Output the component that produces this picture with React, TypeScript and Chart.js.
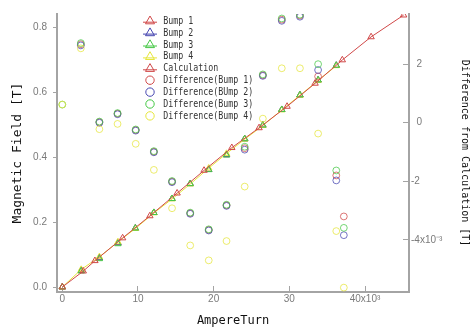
import { useEffect, useRef } from 'react';
import { Chart, registerables } from 'chart.js';

Chart.register(...registerables);

// ---- data ----
const seriesNames = [
  'Bump 1',
  'Bump 2',
  'Bump 3',
  'Bump 4',
  'Calculation',
  'Difference(Bump 1)',
  'Difference(BUmp 2)',
  'Difference(Bump 3)',
  'Difference(Bump 4)',
];

// AmpereTurn of the bump measurements
const bumpX = [0, 2500, 4900, 7350, 9650, 12100, 14500, 16900, 19350, 21700, 24100, 26500, 29000, 31400, 33800, 36200];
// Magnetic field [T]
const bump1 = [0, 0.051, 0.090, 0.136, 0.181, 0.229, 0.272, 0.318, 0.362, 0.407, 0.456, 0.498, 0.546, 0.591, 0.637, 0.682];
const bump2 = [0, 0.051, 0.090, 0.136, 0.181, 0.229, 0.272, 0.318, 0.362, 0.407, 0.456, 0.498, 0.546, 0.591, 0.637, 0.682];
const bump3 = [0, 0.049, 0.087, 0.133, 0.181, 0.229, 0.272, 0.318, 0.361, 0.406, 0.456, 0.498, 0.546, 0.591, 0.637, 0.682];
const bump4 = [0, 0.054, 0.093, 0.139, 0.180, 0.228, 0.271, 0.317, 0.366, 0.411, 0.455, 0.497, 0.545, 0.590, 0.636, 0.681];

// Calculation
const calcX = [0, 2770, 4310, 7970, 11570, 15170, 18730, 22400, 26000, 29700, 33400, 37000, 40800, 45100];
const calcY = [0, 0.049, 0.081, 0.151, 0.219, 0.289, 0.359, 0.429, 0.490, 0.556, 0.627, 0.699, 0.770, 0.837];

// Difference from calculation, in units of 10^-3 T
const diffX = [0, 2450, 4900, 7300, 9700, 12100, 14500, 16900, 19350, 21700, 24100, 26500, 29000, 31400, 33800, 36200, 37200];
const diffBump1 = [null, 2.68, 0.02, 0.31, -0.25, -0.99, -2.01, -3.09, -3.66, -2.82, -0.87, 1.62, 3.52, 3.66, 1.58, -1.80, -3.20];
const diffBump2 = [null, 2.64, 0.0, 0.29, -0.27, -1.01, -2.03, -3.11, -3.68, -2.84, -0.92, 1.60, 3.48, 3.62, 1.80, -1.97, -3.84];
const diffBump3 = [0.62, 2.72, 0.04, 0.33, -0.23, -0.97, -1.99, -3.07, -3.64, -2.80, -0.82, 1.65, 3.56, 3.69, 2.00, -1.63, -3.59];
const diffBump4 = [0.62, 2.54, -0.22, -0.04, -0.72, -1.61, -2.92, -4.19, -4.70, -4.04, -2.18, 0.14, 1.86, 1.86, -0.37, -3.70, -5.63];

// ticks
const xTickValues = [0, 10000, 20000, 30000, 40000];
const xTickLabels = ['0', '10', '20', '30', '40x10\u00B3'];
const yTickValues = [0, 0.2, 0.4, 0.6, 0.8];
const yTickLabels = ['0.0', '0.2', '0.4', '0.6', '0.8'];
const y2TickValues = [2, 0, -2, -4];
const y2TickLabels = ['\u20072', '\u20070', '-2', '-4x10\u207B\u00B3'];

// ---- styles ----
const RED = '#d04848';
const BLUE = '#4646b0';
const GREEN = '#46c846';
const YELLOW = '#e6e63c';
const seriesColors = [RED, BLUE, GREEN, YELLOW, RED, RED, BLUE, GREEN, YELLOW];
const AXIS = '#a4a4a4';
const TICKTXT = '#7a7a7a';
const TICKFONT = "'Liberation Sans Narrow', 'Liberation Sans', sans-serif";
const MONO = "'DejaVu Sans Mono', 'Liberation Mono', monospace";

const pts = (xs: number[], ys: (number | null)[]) => xs.map((x, i) => ({ x, y: ys[i] }));

const alpha = (hex: string, a: number) => {
  const n = parseInt(hex.slice(1), 16);
  return `rgba(${(n >> 16) & 255},${(n >> 8) & 255},${n & 255},${a})`;
};

const insideLegend = {
  id: 'insideLegend',
  afterDatasetsDraw(chart: any) {
    const ctx = chart.ctx as CanvasRenderingContext2D;
    ctx.save();
    seriesNames.forEach((name, i) => {
      const y = 20.7 + i * 11.9;
      const mx = 150;
      const c = seriesColors[i];
      ctx.strokeStyle = c;
      ctx.lineWidth = 1;
      if (i < 5) {
        ctx.beginPath();
        ctx.moveTo(143, y + 1.5);
        ctx.lineTo(157, y + 1.5);
        ctx.stroke();
        const r = 5.2;
        ctx.beginPath();
        for (let k = 0; k < 3; k++) {
          const a = (k * 2 * Math.PI) / 3;
          const px = mx + Math.sin(a) * r;
          const py = y + 0.5 - Math.cos(a) * r;
          if (k === 0) ctx.moveTo(px, py);
          else ctx.lineTo(px, py);
        }
        ctx.closePath();
        ctx.stroke();
      } else {
        ctx.beginPath();
        ctx.arc(mx, y, 4.2, 0, Math.PI * 2);
        ctx.stroke();
      }
      ctx.save();
      ctx.translate(163.3, y);
      ctx.scale(0.83, 1);
      ctx.fillStyle = '#333';
      ctx.font = `10px ${MONO}`;
      ctx.textBaseline = 'middle';
      ctx.textAlign = 'left';
      ctx.fillText(name, 0, 0.5);
      ctx.restore();
    });
    ctx.restore();
  },
};

export default function App() {
  const ref = useRef<HTMLCanvasElement | null>(null);

  useEffect(() => {
    if (!ref.current) return;
    const tri = (label: string, xs: number[], ys: number[], color: string, order: number, line: boolean) => ({
      label,
      data: pts(xs, ys),
      yAxisID: 'y',
      showLine: line,
      borderColor: color,
      backgroundColor: 'transparent',
      borderWidth: 1,
      pointStyle: 'triangle',
      pointRadius: 3.7,
      pointBorderWidth: 1,
      pointBorderColor: color,
      pointBackgroundColor: 'transparent',
      order,
    });
    const circ = (label: string, ys: (number | null)[], color: string, order: number) => ({
      label,
      data: pts(diffX, ys),
      yAxisID: 'y2',
      showLine: false,
      borderColor: alpha(color, 0.75),
      backgroundColor: 'transparent',
      pointStyle: 'circle',
      pointRadius: 3.4,
      pointBorderWidth: 1,
      pointBorderColor: alpha(color, 0.75),
      pointBackgroundColor: 'transparent',
      order,
    });

    const chart = new Chart(ref.current, {
      type: 'scatter',
      data: {
        datasets: [
          tri(seriesNames[0], bumpX, bump1, RED, 9, false),
          tri(seriesNames[1], bumpX, bump2, BLUE, 8, false),
          tri(seriesNames[2], bumpX, bump3, GREEN, 6, false),
          tri(seriesNames[3], bumpX, bump4, YELLOW, 7, true),
          tri(seriesNames[4], calcX, calcY, RED, 5, true),
          circ(seriesNames[5], diffBump1, RED, 4),
          circ(seriesNames[6], diffBump2, BLUE, 3),
          circ(seriesNames[7], diffBump3, GREEN, 2),
          circ(seriesNames[8], diffBump4, YELLOW, 1),
        ] as any,
      },
      options: {
        animation: false,
        responsive: false,
        devicePixelRatio: 1,
        layout: { padding: { top: 11, left: 0, right: 0, bottom: 0 } },
        plugins: { legend: { display: false }, tooltip: { enabled: false } },
        scales: {
          x: {
            type: 'linear',
            position: 'bottom',
            min: -700,
            max: 45810,
            afterFit: (s: any) => { s.height = 39; },
            afterBuildTicks: (s: any) => { s.ticks = xTickValues.map((v) => ({ value: v })); },
            ticks: {
              callback: (_v: any, i: number) => xTickLabels[i],
              color: TICKTXT,
              font: { size: 10, family: TICKFONT },
              padding: 7,
              maxRotation: 0,
              autoSkip: false,
            },
            grid: { drawOnChartArea: false, drawTicks: true, tickLength: -6, color: AXIS, lineWidth: 1 },
            border: { display: true, color: AXIS, width: 2 },
            title: {
              display: true,
              text: 'AmpereTurn',
              color: '#111',
              font: { size: 12, family: MONO, lineHeight: 1.2 },
              padding: { top: 0, bottom: 3 },
            },
          },
          y: {
            type: 'linear',
            position: 'left',
            min: -0.0152,
            max: 0.8405,
            afterFit: (s: any) => { s.width = 57; },
            afterBuildTicks: (s: any) => { s.ticks = yTickValues.map((v) => ({ value: v })); },
            ticks: {
              callback: (_v: any, i: number) => yTickLabels[i],
              color: TICKTXT,
              font: { size: 10, family: TICKFONT },
              padding: 6,
              autoSkip: false,
            },
            grid: { drawOnChartArea: false, drawTicks: true, tickLength: 4, color: AXIS, lineWidth: 1 },
            border: { display: true, color: AXIS, width: 2 },
            title: {
              display: true,
              text: 'Magnetic Field [T]',
              color: '#111',
              font: { size: 13, family: MONO, lineHeight: 1.2 },
              padding: { top: 10, bottom: 0 },
            },
          },
          y2: {
            type: 'linear',
            position: 'right',
            min: -5.78,
            max: 3.713,
            afterFit: (s: any) => { s.width = 64; },
            afterBuildTicks: (s: any) => { s.ticks = y2TickValues.map((v) => ({ value: v })); },
            ticks: {
              callback: (_v: any, i: number) => y2TickLabels[i],
              color: TICKTXT,
              font: { size: 10, family: TICKFONT },
              padding: 8,
              autoSkip: false,
            },
            grid: { drawOnChartArea: false, drawTicks: true, tickLength: -6, color: AXIS, lineWidth: 1 },
            border: { display: true, color: AXIS, width: 2 },
            title: {
              display: true,
              text: 'Difference from Calculation [T]',
              color: '#111',
              font: { size: 10, family: MONO, lineHeight: 1.2 },
              padding: { top: 2, bottom: 0 },
            },
          },
        },
      } as any,
      plugins: [insideLegend],
    });
    return () => chart.destroy();
  }, []);

  return (
    <div style={{ position: 'absolute', left: 0, top: 0, width: 473, height: 331, background: '#fff' }}>
      <canvas ref={ref} width={473} height={331} style={{ display: 'block' }} />
    </div>
  );
}
